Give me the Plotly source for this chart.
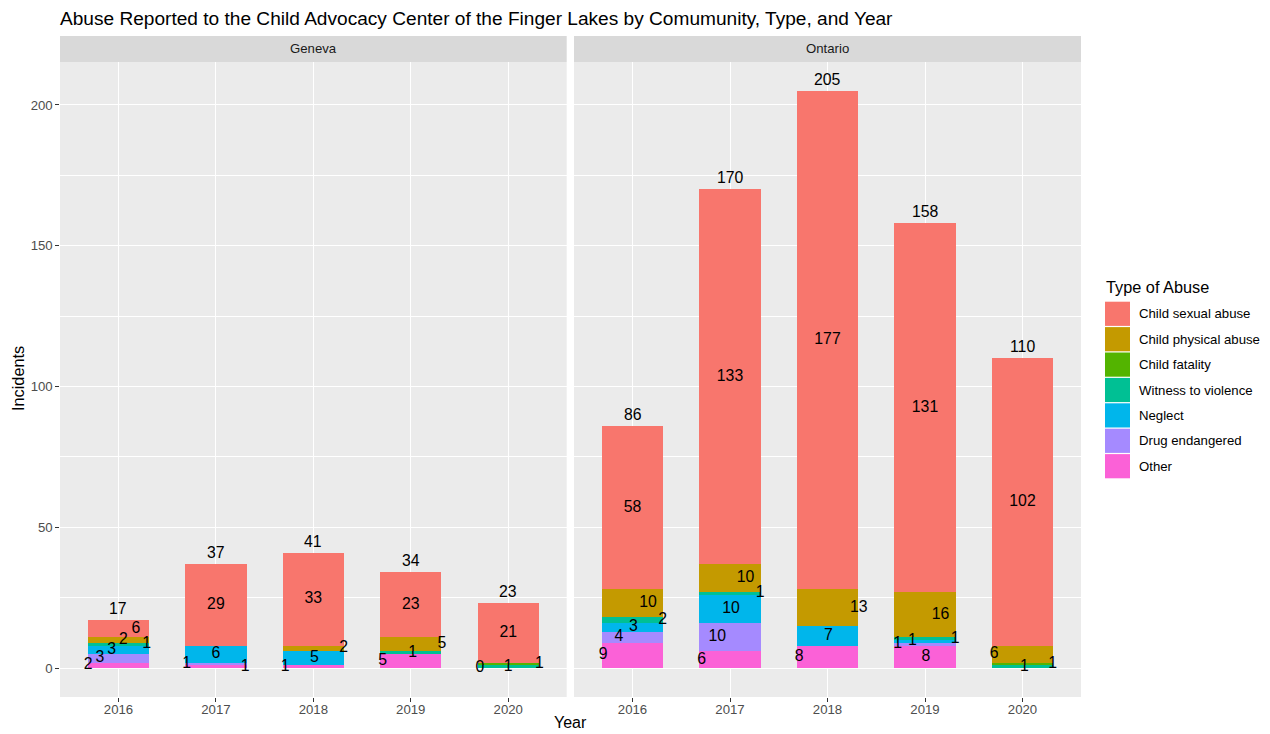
import plotly.graph_objects as go

# ---------------- data ----------------
years = [2016, 2017, 2018, 2019, 2020]
communities = ["Geneva", "Ontario"]
abuse_types = ["Child sexual abuse", "Child physical abuse", "Child fatality",
               "Witness to violence", "Neglect", "Drug endangered", "Other"]

# Geneva counts by year (None = no record)
geneva_sexual = [6, 29, 33, 23, 21]
geneva_physical = [2, None, 2, 5, None]
geneva_fatality = [None, None, None, None, 1]
geneva_witness = [1, None, None, 1, 1]
geneva_neglect = [3, 6, 5, None, None]
geneva_drug = [3, 1, None, None, None]
geneva_other = [2, 1, 1, 5, 0]

# Ontario counts by year
ontario_sexual = [58, 133, 177, 131, 102]
ontario_physical = [10, 10, 13, 16, 6]
ontario_fatality = [None, None, None, None, 1]
ontario_witness = [2, 1, None, 1, 1]
ontario_neglect = [3, 10, 7, 1, None]
ontario_drug = [4, 10, None, 1, None]
ontario_other = [9, 6, 8, 8, None]

# ---------------- styling ----------------
colors = {
    "Child sexual abuse": "#F8766D",
    "Child physical abuse": "#C49A00",
    "Child fatality": "#53B400",
    "Witness to violence": "#00C094",
    "Neglect": "#00B6EB",
    "Drug endangered": "#A58AFF",
    "Other": "#FB61D7",
}

# horizontal jitter of the value labels (in category units), as seen in the picture
label_jitter = {
    "Geneva": {
        "Child sexual abuse": [0.18, 0, 0, 0, 0],
        "Child physical abuse": [0.05, 0, 0.31, 0.32, 0],
        "Child fatality": [0, 0, 0, 0, 0.32],
        "Witness to violence": [0.29, 0, 0, 0.02, 0.0],
        "Neglect": [-0.07, 0.0, 0.01, 0, 0],
        "Drug endangered": [-0.19, -0.30, 0, 0, 0],
        "Other": [-0.31, 0.30, -0.29, -0.29, -0.29],
    },
    "Ontario": {
        "Child sexual abuse": [0, 0, 0, 0, 0],
        "Child physical abuse": [0.16, 0.16, 0.32, 0.16, -0.29],
        "Child fatality": [0, 0, 0, 0, 0.31],
        "Witness to violence": [0.31, 0.31, 0, 0.31, 0.02],
        "Neglect": [0.01, 0.01, 0.01, -0.13, 0],
        "Drug endangered": [-0.14, -0.13, 0, -0.28, 0],
        "Other": [-0.30, -0.29, -0.29, 0.01, 0],
    },
}

data = {
    "Geneva": {
        "Child sexual abuse": geneva_sexual,
        "Child physical abuse": geneva_physical,
        "Child fatality": geneva_fatality,
        "Witness to violence": geneva_witness,
        "Neglect": geneva_neglect,
        "Drug endangered": geneva_drug,
        "Other": geneva_other,
    },
    "Ontario": {
        "Child sexual abuse": ontario_sexual,
        "Child physical abuse": ontario_physical,
        "Child fatality": ontario_fatality,
        "Witness to violence": ontario_witness,
        "Neglect": ontario_neglect,
        "Drug endangered": ontario_drug,
        "Other": ontario_other,
    },
}

FONT = "Liberation Sans, Arial, Helvetica, sans-serif"
W, H = 1270, 734
ML, MR, MT, MB = 60, 189, 36, 37
PW = W - ML - MR
PH = H - MT - MB
STRIP_H = 26
ydom_top = (PH - STRIP_H) / PH
x1_dom = [0, (566.7 - ML) / PW]
x2_dom = [(574 - ML) / PW, 1]
BAR_W = 0.63
LABEL_SIZE = 15.8
SMALL = 13.2
MED = 16.3
BIG = 19.1


def px_x(px):
    return (px - ML) / PW


def px_y(py):
    return (H - MB - py) / PH


fig = go.Figure()
annotations = []
shapes = []

for k, comm in enumerate(communities):
    xa = "x" if k == 0 else "x2"
    ya = "y" if k == 0 else "y2"
    base = [0.0] * len(years)
    lab_x, lab_y, lab_t = [], [], []
    for t in reversed(abuse_types):
        vals = data[comm][t]
        yv = [v if v is not None else 0 for v in vals]
        fig.add_trace(go.Bar(
            x=years, y=yv, name=t, marker=dict(color=colors[t], line=dict(width=0)),
            width=BAR_W, xaxis=xa, yaxis=ya, showlegend=False, hoverinfo="skip",
        ))
        for i, v in enumerate(vals):
            if v is not None:
                lab_x.append(years[i] + label_jitter[comm][t][i])
                lab_y.append(base[i] + v / 2)
                lab_t.append(str(v))
            base[i] += yv[i]
    fig.add_trace(go.Scatter(
        x=lab_x, y=lab_y, text=lab_t, mode="text", xaxis=xa, yaxis=ya,
        textposition="middle center", showlegend=False, hoverinfo="skip",
        textfont=dict(family=FONT, size=LABEL_SIZE, color="black"), cliponaxis=False,
    ))
    for i, yr in enumerate(years):
        annotations.append(dict(
            x=yr, y=base[i], xref=xa, yref=ya, text=str(int(base[i])), showarrow=False,
            yshift=11.5, yanchor="middle", font=dict(family=FONT, size=LABEL_SIZE, color="black"),
        ))
    # facet strip
    shapes.append(dict(type="rect", xref=f"{xa} domain", yref="paper", x0=0, x1=1,
                       y0=ydom_top, y1=1, fillcolor="#D9D9D9", line=dict(width=0), layer="below"))
    dom = x1_dom if k == 0 else x2_dom
    annotations.append(dict(
        x=(dom[0] + dom[1]) / 2, y=(ydom_top + 1) / 2, xref="paper", yref="paper",
        text=comm, showarrow=False, xanchor="center", yanchor="middle",
        font=dict(family=FONT, size=SMALL, color="#1A1A1A"),
    ))

# axis titles
annotations.append(dict(x=0.5, y=px_y(733), xref="paper", yref="paper", text="Year",
                        showarrow=False, xanchor="center", yanchor="bottom",
                        font=dict(family=FONT, size=16, color="black")))
annotations.append(dict(x=px_x(18), y=px_y(379), xref="paper", yref="paper", text="Incidents",
                        showarrow=False, xanchor="center", yanchor="middle", textangle=-90,
                        font=dict(family=FONT, size=MED, color="black")))

# legend (ggplot-style keys)
annotations.append(dict(x=px_x(1104), y=px_y(287), xref="paper", yref="paper", text="Type of Abuse",
                        showarrow=False, xanchor="left", yanchor="middle",
                        font=dict(family=FONT, size=MED, color="black")))
for i, t in enumerate(abuse_types):
    top = 301.7 + 25.4 * i
    shapes.append(dict(type="rect", xref="paper", yref="paper",
                       x0=px_x(1105), x1=px_x(1130), y0=px_y(top + 24.2), y1=px_y(top),
                       fillcolor=colors[t], line=dict(width=0)))
    annotations.append(dict(x=px_x(1137), y=px_y(top + 12.1), xref="paper", yref="paper", text=t,
                            showarrow=False, xanchor="left", yanchor="middle",
                            font=dict(family=FONT, size=SMALL, color="black")))

axis_common = dict(
    tickvals=years, ticktext=[str(y) for y in years], range=[years[0] - 0.6, years[-1] + 0.6],
    showgrid=True, gridcolor="white", gridwidth=1.1, zeroline=False, showline=False,
    ticks="outside", ticklen=3.7, tickwidth=1.1, tickcolor="#333333", ticklabelstandoff=-4,
    tickfont=dict(family=FONT, size=SMALL, color="#4D4D4D"), fixedrange=True,
)
yaxis_common = dict(
    range=[-10.25, 215.25], domain=[0, ydom_top], tickvals=[0, 50, 100, 150, 200],
    showgrid=True, gridcolor="white", gridwidth=1.1, zeroline=False, showline=False,
    minor=dict(tickvals=[25, 75, 125, 175], showgrid=True, gridcolor="white", gridwidth=0.55, ticks=""),
    tickfont=dict(family=FONT, size=SMALL, color="#4D4D4D"), fixedrange=True,
)

fig.update_layout(
    width=W, height=H, autosize=False,
    margin=dict(l=ML, r=MR, t=MT, b=MB),
    paper_bgcolor="white", plot_bgcolor="#EBEBEB",
    barmode="stack", bargap=0,
    showlegend=False,
    title=dict(text="Abuse Reported to the Child Advocacy Center of the Finger Lakes by Comumunity, Type, and Year",
               x=ML / W, xref="container", xanchor="left", y=1 - 18 / H, yref="container", yanchor="middle",
               font=dict(family=FONT, size=BIG, color="black")),
    xaxis=dict(domain=x1_dom, anchor="y", **axis_common),
    xaxis2=dict(domain=x2_dom, anchor="y2", **axis_common),
    yaxis=dict(anchor="x", ticks="outside", ticklen=3.7, tickwidth=1.1, tickcolor="#333333",
               **yaxis_common),
    yaxis2=dict(anchor="x2", matches="y", showticklabels=False, ticks="", **yaxis_common),
    annotations=annotations, shapes=shapes,
    font=dict(family=FONT),
)

fig.write_html("out.html", config={"displayModeBar": False},
               post_script="document.body.style.margin='0';document.body.style.overflow='hidden';")
